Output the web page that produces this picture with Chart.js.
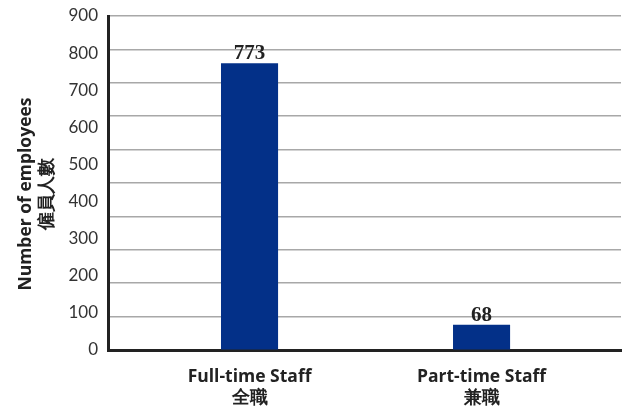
<!DOCTYPE html>
<html>
<head>
<meta charset="utf-8">
<script src="https://cdn.jsdelivr.net/npm/chart.js@4.4.0/dist/chart.umd.min.js"></script>
<style>
html,body{margin:0;padding:0;background:#fff;}
#wrap{width:624px;height:411px;}
</style>
</head>
<body>
<div id="wrap"><canvas id="c" width="624" height="411"></canvas></div>
<script>
const categories = [["Full-time Staff", "全職"], ["Part-time Staff", "兼職"]];
const employees = [773, 68];
const yTickMax = 900;
const yTickStep = 100;
const gridMax = 1000;
const gridStep = 100;
const yTitle = ["Number of employees\u2002\u2002 ", "僱員人數\u2002\u2002 "];

const barColor = "#033088";

const valueLabels = {
  id: "valueLabels",
  afterDatasetsDraw(chart) {
    const ctx = chart.ctx;
    const meta = chart.getDatasetMeta(0);
    ctx.save();
    ctx.font = "bold 21px 'Liberation Serif'";
    ctx.fillStyle = "#222";
    ctx.textAlign = "center";
    ctx.textBaseline = "bottom";
    meta.data.forEach((bar, i) => {
      ctx.fillText(String(employees[i]), bar.x, bar.y + 1);
    });
    ctx.restore();
  }
};

new Chart(document.getElementById("c"), {
  type: "bar",
  data: {
    datasets: [{
      data: employees.map((v, i) => ({x: i, y: v})),
      backgroundColor: barColor,
      borderWidth: 0,
      barPercentage: 0.246,
      categoryPercentage: 1.0
    }]
  },
  options: {
    responsive: false,
    animation: false,
    layout: {padding: {left: 16, right: 3, top: 16, bottom: 4}},
    plugins: {legend: {display: false}, tooltip: {enabled: false}},
    scales: {
      x: {
        type: "linear",
        offset: false,
        min: -0.61,
        max: 1.601,
        afterBuildTicks(s) { s.ticks = categories.map((c, i) => ({value: i})); },
        afterFit(s) { s.height = 57; s.paddingLeft = 0; s.paddingRight = 0; },
        ticks: {
          callback: (v) => categories[v],
          font: {family: "Open Sans", size: 17.5, weight: "bold"},
          color: "#222",
          padding: 17,
          maxRotation: 0,
          autoSkip: false,
          lineHeight: 1.15
        },
        grid: {display: true, color: "transparent", drawTicks: false},
        border: {display: true, color: "#222", width: 3}
      },
      y: {
        position: "left",
        min: 0,
        max: yTickMax,
        afterFit(s) { s.width = 92; s.paddingTop = 0; s.paddingBottom = 0; },
        ticks: {
          stepSize: yTickStep,
          font: {family: "Lato", size: 17},
          color: "#333",
          padding: 10
        },
        grid: {display: true, color: "transparent", drawTicks: false},
        border: {display: true, color: "#222", width: 3},
        title: {
          display: true,
          text: yTitle,
          font: {family: "Open Sans", size: 17.5, weight: "bold"},
          color: "#222",
          padding: {top: 0, bottom: 6},
          lineHeight: 1.25
        }
      },
      y2: {
        position: "right",
        min: 0,
        max: gridMax,
        ticks: {display: false, stepSize: gridStep},
        grid: {display: true, color: "#a8a8a8", lineWidth: 1.5, drawTicks: false},
        border: {display: false},
        afterFit(s) { s.width = 0; s.paddingTop = 0; s.paddingBottom = 0; }
      }
    }
  },
  plugins: [valueLabels]
});
</script>
</body>
</html>
